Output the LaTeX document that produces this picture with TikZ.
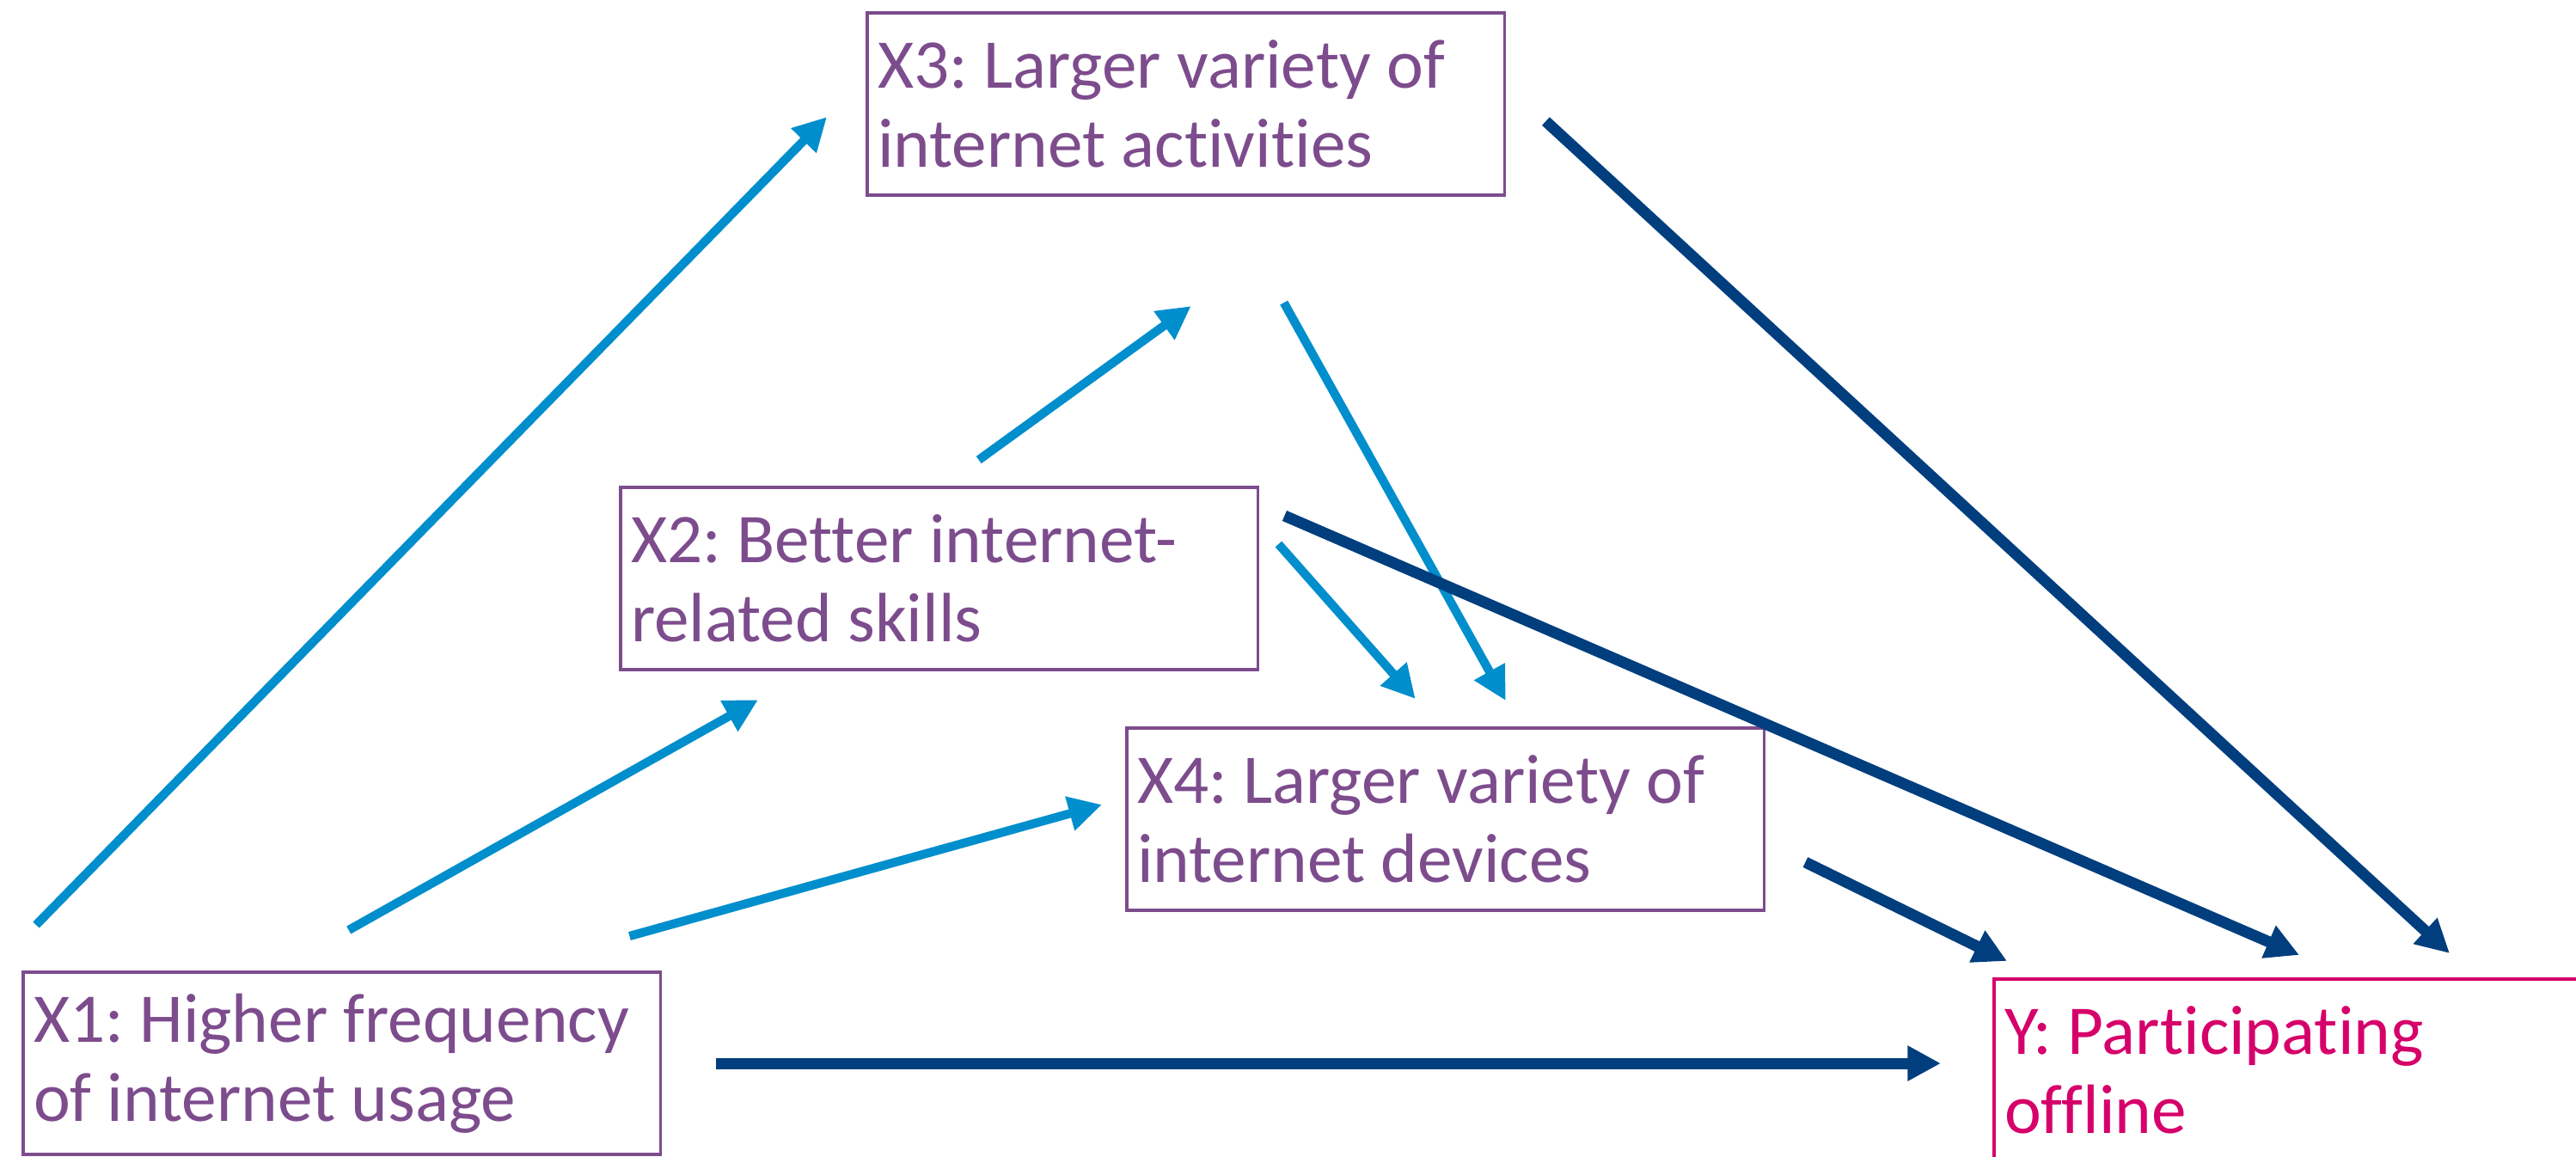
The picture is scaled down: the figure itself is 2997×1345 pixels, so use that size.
\documentclass[tikz,border=0pt]{standalone}
\usepackage{fontspec}
\setmainfont{Carlito}[Ligatures=NoCommon]
\usetikzlibrary{arrows.meta,positioning}

\definecolor{varpurple}{RGB}{125,76,141}
\definecolor{outmagenta}{RGB}{214,0,106}
\definecolor{pathlight}{RGB}{0,142,204}
\definecolor{pathdark}{RGB}{0,62,126}

\begin{document}
\frenchspacing
\begin{tikzpicture}[x=0.01cm,y=-0.01cm,
	var/.style={draw=varpurple,text=varpurple,line width=1pt,outer sep=0pt,inner xsep=0.12cm,
		minimum width=7.41cm,minimum height=2.12cm,text width=7.17cm,align=flush left,anchor=north west,
		font=\fontsize{23.1}{26.2}\selectfont},
	outcome/.style={var,draw=outmagenta,text=outmagenta},
	lightpath/.style={->,color=pathlight,line width=2.9pt},
	darkpath/.style={->,color=pathdark,line width=3.7pt},
	>={Triangle[length=11pt,width=11pt]}]
	\useasboundingbox (0,0) rectangle (2997,1345);

	% the five variables
	\node[var](X3) at (1009,15) {X3: Larger variety of\\internet activities};
	\node[var](X2) at (722,567) {X2: Better internet-\\related skills};
	\node[var](X4) at (1311,847) {X4: Larger variety of\\internet devices};
	\node[var](X1) at (27,1131) {X1: Higher frequency\\of internet usage};
	\node[outcome](Y) at (2320,1139) {Y: Participating\\offline};

	% paths between the predictors
	\path [lightpath]
		([shift={(15,-55)}]X1.north west) edge ([shift={(-47,15)}]X3.west)
		([shift={(8,-49)}]X1.north) edge ([shift={(160,35)}]X2.south west)
		([shift={(-36,-42)}]X1.north east) edge ([shift={(-29,-17)}]X4.west)
		([shift={(46,-32)}]X2.north) edge ([shift={(6,129)}]X3.south)
		([shift={(24,66)}]X2.north east) edge ([shift={(-35,-34)}]X4.north)
		([shift={(114,125)}]X3.south) edge ([shift={(70,-32)}]X4.north);

	% paths into the outcome
	\path [darkpath]
		([shift={(48,20)}]X3.east) edge ([shift={(530,-30)}]Y.north west)
		([shift={(31,33)}]X2.north east) edge ([shift={(355,-28)}]Y.north west)
		([shift={(48,50)}]X4.east) edge ([shift={(15,-21)}]Y.north west)
		([shift={(65,0)}]X1.east) edge ([shift={(-62,0)}]X1.east -| Y.west);
\end{tikzpicture}
\end{document}
